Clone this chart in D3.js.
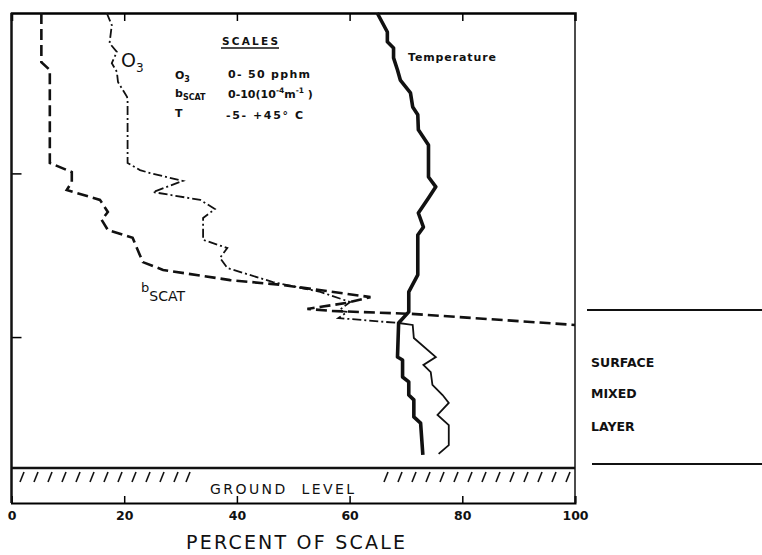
<!DOCTYPE html>
<html>
<head>
<meta charset="utf-8">
<script src="https://cdn.jsdelivr.net/npm/d3@7"></script>
<style>
  body { margin: 0; background: #fff; }
  text { font-family: "DejaVu Sans", sans-serif; fill: #111; }
  .bold { font-weight: bold; }
</style>
</head>
<body>
<script>
// profiles: [percent of scale, height above ground (m, approx)]
var temperature = [
  [64.9, 1390], [66.7, 1332], [66.7, 1302], [67.8, 1283], [67.8, 1253],
  [68.5, 1216], [69.0, 1185], [70.8, 1146], [71.2, 1103], [72.1, 1079],
  [72.2, 1033], [74.0, 987], [74.0, 889], [75.3, 859], [74.0, 825],
  [72.2, 779], [73.1, 736], [72.1, 712], [72.1, 590], [70.5, 538],
  [70.5, 477], [68.7, 443], [68.5, 339], [69.4, 330], [69.4, 278],
  [70.5, 263], [70.5, 223], [71.4, 208], [71.4, 156], [72.6, 137],
  [73.0, 40]
];
var ozone = [
  [16.9, 1390], [17.8, 1353], [17.4, 1298], [18.7, 1271], [17.8, 1237],
  [18.7, 1210], [18.9, 1179], [20.5, 1134], [20.6, 1124], [20.6, 932],
  [22.8, 910], [24.6, 901], [30.4, 877], [25.1, 843], [33.5, 819],
  [36.1, 791], [34.0, 764], [34.0, 697], [38.3, 672], [37.0, 642],
  [38.3, 611], [46.4, 568], [54.8, 538], [60.1, 507], [58.0, 480],
  [59.6, 477], [58.0, 458], [68.7, 443], [71.2, 437], [71.4, 397],
  [75.3, 339], [73.1, 315], [74.4, 293], [74.7, 254], [76.5, 223],
  [77.6, 199], [75.6, 162], [77.6, 131], [77.6, 70], [75.8, 43]
];
var bscat = [
  [5.3, 1390], [5.3, 1240], [6.8, 1216], [6.8, 932], [10.7, 904],
  [10.7, 874], [9.8, 849], [15.7, 819], [17.1, 782], [16.0, 758],
  [17.1, 727], [21.5, 703], [22.4, 666], [23.3, 629], [26.9, 605],
  [38.8, 574], [48.2, 559], [63.7, 522], [59.3, 504], [52.5, 486],
  [56.6, 480], [70.8, 471], [100, 437]
];
var xTicks = [0, 20, 40, 60, 80, 100];
var yTicks = [400, 900];
var inversionTop = 443;   // where the ozone trace turns solid
var mixedLayer = [0, 480]; // marked at right of the frame

var width = 762, height = 555;
var svg = d3.select("body").append("svg")
    .attr("width", width)
    .attr("height", height);

svg.append("rect").attr("width", width).attr("height", height).attr("fill", "#fff");

// plot frame
var x = d3.scaleLinear().domain([0, 100]).range([11.5, 575]);
var y = d3.scaleLinear().domain([0, 1390]).range([468, 13]);
var groundBottom = 503;

var line = d3.line()
    .x(function(d){ return x(d[0]); })
    .y(function(d){ return y(d[1]); });

// bottom axis sits on the base of the ground strip, ticks pointing up
var xAxis = d3.axisBottom(x).tickValues(xTicks).tickSize(-7).tickPadding(8)
    .tickFormat(d3.format("d"));
var gx = svg.append("g")
    .attr("transform", "translate(0," + groundBottom + ")")
    .call(xAxis);
gx.select(".domain").attr("stroke-width", 2);
gx.selectAll(".tick line").attr("stroke-width", 1.5);
gx.selectAll(".tick text")
    .attr("class", "bold")
    .style("font-size", "12.5px")
    .style("font-family", "DejaVu Sans, sans-serif")
    .attr("fill", "#111");

// top axis: ticks only
var topAxis = d3.axisTop(x).tickValues([20, 40, 60, 80]).tickSize(-8).tickFormat("");
var gt = svg.append("g")
    .attr("transform", "translate(0," + y(1390) + ")")
    .call(topAxis);
gt.select(".domain").attr("stroke-width", 2.5);
gt.selectAll(".tick line").attr("stroke-width", 1.5);

// left axis: ticks only
var leftAxis = d3.axisLeft(y).tickValues(yTicks).tickSize(-10).tickFormat("");
var gl = svg.append("g")
    .attr("transform", "translate(" + x(0) + ",0)")
    .call(leftAxis);
gl.select(".domain").remove();
gl.selectAll(".tick line").attr("stroke-width", 1.5);

// side borders down to the bottom of the ground strip
svg.append("line")
    .attr("x1", x(0)).attr("x2", x(0))
    .attr("y1", y(1390)).attr("y2", groundBottom)
    .attr("stroke", "#111").attr("stroke-width", 2.5);
svg.append("line")
    .attr("x1", x(100)).attr("x2", x(100))
    .attr("y1", y(1390)).attr("y2", groundBottom)
    .attr("stroke", "#111").attr("stroke-width", 1.5);

// ground level line and hatching
svg.append("line")
    .attr("x1", x(0)).attr("x2", x(100))
    .attr("y1", y(0)).attr("y2", y(0))
    .attr("stroke", "#111").attr("stroke-width", 2.5);

var hatchX = d3.range(20, 180, 14).concat([186]).concat(d3.range(384, 572, 14));
svg.selectAll(".hatch")
    .data(hatchX)
    .enter()
    .append("line")
    .attr("class", "hatch")
    .attr("x1", function(d){ return d; })
    .attr("y1", y(0) + 14)
    .attr("x2", function(d){ return d + 4; })
    .attr("y2", y(0) + 4)
    .attr("stroke", "#111")
    .attr("stroke-width", 1.6);

svg.append("text")
    .text("GROUND  LEVEL")
    .attr("x", 210)
    .attr("y", 494)
    .attr("textLength", 144)
    .style("font-size", "14px")
    .style("white-space", "pre");

// profiles
svg.append("path")
    .datum(bscat)
    .attr("d", line)
    .attr("fill", "none")
    .attr("stroke", "#111")
    .attr("stroke-width", 2.6)
    .attr("stroke-dasharray", "11,5");

svg.append("path")
    .datum(ozone.filter(function(d){ return d[1] >= inversionTop; }))
    .attr("d", line)
    .attr("fill", "none")
    .attr("stroke", "#111")
    .attr("stroke-width", 1.8)
    .attr("stroke-dasharray", "9,3,2,3");

svg.append("path")
    .datum(ozone.filter(function(d){ return d[1] <= inversionTop; }))
    .attr("d", line)
    .attr("fill", "none")
    .attr("stroke", "#111")
    .attr("stroke-width", 1.8);

svg.append("path")
    .datum(temperature)
    .attr("d", line)
    .attr("fill", "none")
    .attr("stroke", "#111")
    .attr("stroke-width", 3.6)
    .attr("stroke-linejoin", "round");

// curve labels
var o3Label = svg.append("text").attr("x", 121).attr("y", 67).style("font-size", "19px");
o3Label.append("tspan").text("O");
o3Label.append("tspan").text("3").attr("dy", 5).style("font-size", "12px");

var bLabel = svg.append("text").attr("x", 141).attr("y", 292).style("font-size", "13px");
bLabel.append("tspan").text("b");
bLabel.append("tspan").text("SCAT").attr("dy", 9).style("font-size", "14px");

svg.append("text")
    .text("Temperature")
    .attr("class", "bold")
    .attr("x", 408)
    .attr("y", 61)
    .attr("textLength", 88)
    .style("font-size", "11px");

// scales box
svg.append("text")
    .text("SCALES")
    .attr("class", "bold")
    .attr("x", 222)
    .attr("y", 45)
    .attr("textLength", 56)
    .style("font-size", "10.5px");
svg.append("line")
    .attr("x1", 221).attr("x2", 279)
    .attr("y1", 48).attr("y2", 48)
    .attr("stroke", "#111").attr("stroke-width", 1.4);

var r1 = svg.append("text").attr("class", "bold").attr("x", 175).attr("y", 79).style("font-size", "11px");
r1.append("tspan").text("O");
r1.append("tspan").text("3").attr("dy", 3).style("font-size", "8px");
svg.append("text").attr("class", "bold").attr("x", 228).attr("y", 78)
    .attr("textLength", 82).style("font-size", "11px").text("0- 50 pphm");

var r2 = svg.append("text").attr("class", "bold").attr("x", 175).attr("y", 97).style("font-size", "11px");
r2.append("tspan").text("b");
r2.append("tspan").text("SCAT").attr("dy", 3).style("font-size", "8px");
var r2v = svg.append("text").attr("class", "bold").attr("x", 228).attr("y", 98).style("font-size", "11px");
r2v.append("tspan").text("0-10(10");
r2v.append("tspan").text("-4").attr("dy", -5).style("font-size", "7.5px");
r2v.append("tspan").text("m").attr("dy", 5);
r2v.append("tspan").text("-1").attr("dy", -5).style("font-size", "7.5px");
r2v.append("tspan").text(" )").attr("dy", 5);

svg.append("text").attr("class", "bold").attr("x", 175).attr("y", 117)
    .style("font-size", "11px").text("T");
svg.append("text").attr("class", "bold").attr("x", 226).attr("y", 119)
    .attr("textLength", 77).style("font-size", "11px").text("-5- +45° C");

// axis title
svg.append("text")
    .text("PERCENT OF SCALE")
    .attr("x", 186)
    .attr("y", 549)
    .attr("textLength", 219)
    .style("font-size", "19px");

// surface mixed layer marker at right
svg.selectAll(".layer")
    .data(mixedLayer)
    .enter()
    .append("line")
    .attr("class", "layer")
    .attr("x1", function(d, i){ return i == 0 ? 592 : 587; })
    .attr("x2", 762)
    .attr("y1", function(d){ return d == 0 ? 464 : 310; })
    .attr("y2", function(d){ return d == 0 ? 464 : 310; })
    .attr("stroke", "#111")
    .attr("stroke-width", 2);

["SURFACE", "MIXED", "LAYER"].forEach(function(t, i){
  svg.append("text")
    .text(t)
    .attr("class", "bold")
    .attr("x", 591)
    .attr("y", [367, 398, 431][i])
    .style("font-size", "12.5px");
});
</script>
</body>
</html>
